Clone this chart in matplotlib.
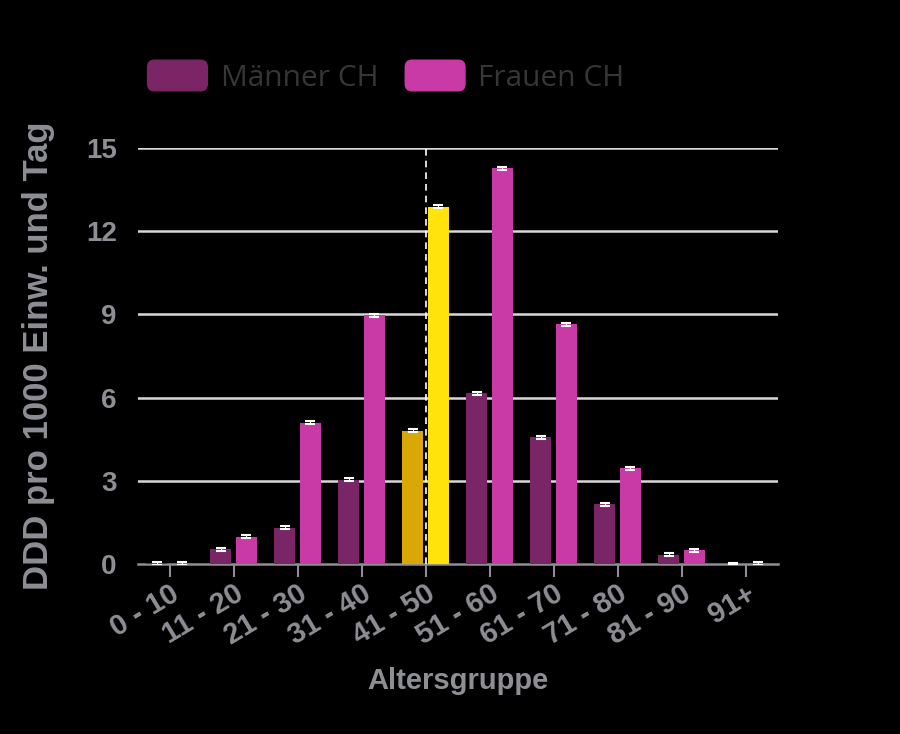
import numpy as np
import matplotlib
matplotlib.use("Agg")
import matplotlib.pyplot as plt
import matplotlib.patches as mpatches
from matplotlib.legend_handler import HandlerPatch

# donnees
groupes = ["0 - 10", "11 - 20", "21 - 30", "31 - 40", "41 - 50",
           "51 - 60", "61 - 70", "71 - 80", "81 - 90", "91+"]
maenner = [0.02, 0.53, 1.31, 3.04, 4.81, 6.16, 4.57, 2.16, 0.33, 0.0]
frauen = [0.02, 0.99, 5.09, 8.97, 12.89, 14.27, 8.64, 3.45, 0.50, 0.03]
surligne = 4  # groupe mis en evidence (41 - 50)
yticks = [0, 3, 6, 9, 12, 15]

c_m = "#7a2566"
c_f = "#c93aa7"
c_m_hl = "#d9a806"
c_f_hl = "#ffe30b"
gris = "#8e8e95"
police = ["Liberation Sans", "DejaVu Sans"]

fig = plt.figure(figsize=(9, 7.34), dpi=100)
fig.patch.set_facecolor("black")
ax = fig.add_axes([0.153, 0.2316, 0.711, 0.5666])
ax.set_facecolor("black")

x = np.arange(len(groupes))
larg = 0.33
col_m = [c_m_hl if i == surligne else c_m for i in x]
col_f = [c_f_hl if i == surligne else c_f for i in x]

#grille horizontale
for v in yticks[1:]:
    ax.axhline(v, color="#d8d8d8", lw=1.8, zorder=1)

ax.bar(x - 0.2, maenner, larg, color=col_m, zorder=3)
ax.bar(x + 0.2, frauen, larg, color=col_f, zorder=3)

# petites barres d'erreur blanches
ax.errorbar(x - 0.2, maenner, yerr=0.05, fmt="none", ecolor="white",
            elinewidth=0.8, capsize=3.5, capthick=1.5, zorder=4)
ax.errorbar(x + 0.2, frauen, yerr=0.05, fmt="none", ecolor="white",
            elinewidth=0.8, capsize=3.5, capthick=1.5, zorder=4)

# ligne pointillee sur le groupe mis en evidence
ax.plot([surligne, surligne], [0, 15], color="white", lw=1.2,
        ls=(0, (4, 3)), zorder=5)

ax.set_xlim(-0.5, len(groupes) - 0.5)
ax.set_ylim(0, 15)
ax.set_yticks(yticks)
ax.set_xticks(x)
ax.set_xticklabels(groupes, rotation=31, ha="right", rotation_mode="anchor",
                   fontsize=21, fontweight="bold", color=gris, family=police)
for lab in ax.get_yticklabels():
    lab.set_fontsize(20)
    lab.set_fontweight("bold")
    lab.set_color(gris)
    lab.set_family(police)

ax.tick_params(axis="y", length=0, pad=15)
ax.tick_params(axis="x", length=9, width=1.5, color=gris, pad=2)
for s in ["top", "right", "left"]:
    ax.spines[s].set_visible(False)
ax.spines["bottom"].set_color(gris)
ax.spines["bottom"].set_linewidth(1.8)

ax.set_xlabel("Altersgruppe", fontsize=21, fontweight="bold", color=gris,
              labelpad=12, family=police)
ax.set_ylabel("DDD pro 1000 Einw. und Tag", fontsize=25, fontweight="bold",
              color=gris, labelpad=22, family=police)


def boite_arrondie(legend, orig_handle, xdescent, ydescent, width, height, fontsize):
    return mpatches.FancyBboxPatch((-xdescent, -ydescent), width, height,
                                   boxstyle="round,pad=0,rounding_size=5")


h1 = mpatches.Patch(color=c_m, label="Männer CH")
h2 = mpatches.Patch(color=c_f, label="Frauen CH")
leg = fig.legend(handles=[h1, h2], loc="upper left",
                 bbox_to_anchor=(0.164, 0.918), frameon=False, ncol=2,
                 borderpad=0, borderaxespad=0,
                 prop={"family": ["Open Sans", "DejaVu Sans"], "size": 21.5},
                 handlelength=2.0, handleheight=1.2,
                 handletextpad=0.45, columnspacing=0.9,
                 handler_map={mpatches.Patch: HandlerPatch(patch_func=boite_arrondie)})
for t in leg.get_texts():
    t.set_color("#363636")

fig.savefig("out.png", dpi=100, facecolor="black")
